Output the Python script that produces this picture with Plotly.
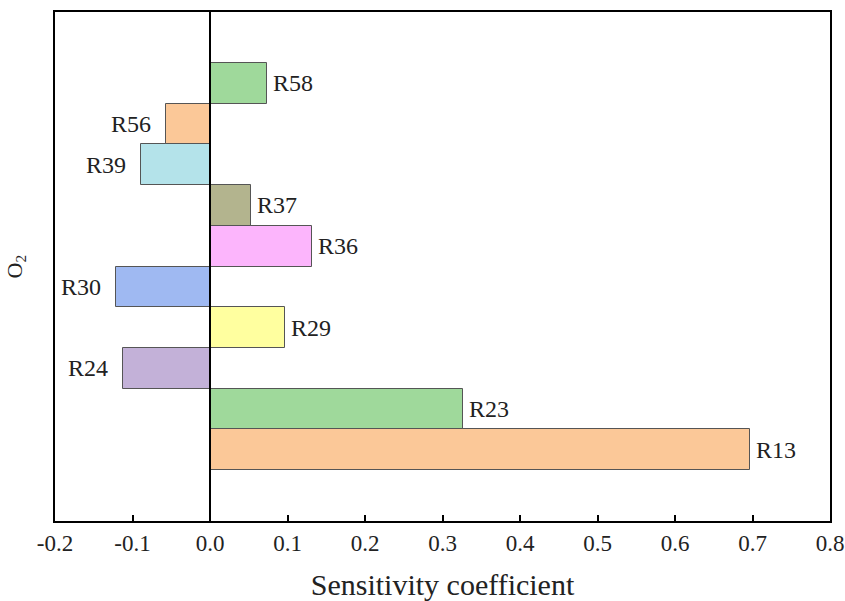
import plotly.graph_objects as go

reactions = ["R13", "R23", "R24", "R29", "R30", "R36", "R37", "R39", "R56", "R58"]
coefficients = [0.697, 0.327, -0.112, 0.097, -0.121, 0.131, 0.053, -0.089, -0.057, 0.073]
bar_colors = ["#fbc898", "#9fd99b", "#c3b1d8", "#ffff9f", "#9fb9f2",
              "#fcb5fc", "#b3b48e", "#b4e3ea", "#fbc898", "#9fd99b"]
x_ticks = [-0.2, -0.1, 0.0, 0.1, 0.2, 0.3, 0.4, 0.5, 0.6, 0.7, 0.8]

FONT = "Liberation Serif"

fig = go.Figure()
fig.add_trace(go.Bar(
    x=coefficients, y=reactions, orientation="h", width=1,
    marker=dict(color=bar_colors, line=dict(color="#555555", width=1)),
    showlegend=False, hoverinfo="x+y",
))
for name, val in zip(reactions, coefficients):
    pos = val >= 0
    fig.add_annotation(
        x=val, y=name, xref="x", yref="y", text=name, showarrow=False,
        xanchor="left" if pos else "right", yanchor="middle",
        xshift=4 if pos else -13,
        font=dict(family=FONT, size=24, color="#222222"),
    )
fig.add_shape(type="line", xref="x", yref="paper", x0=0, x1=0, y0=0, y1=1,
              line=dict(color="black", width=2), layer="above")
fig.add_annotation(
    x=0, y=0.5, xref="paper", yref="paper", text="O<sub>2</sub>",
    showarrow=False, textangle=-90, xanchor="right", yanchor="middle",
    xshift=-24, font=dict(family=FONT, size=22, color="#222222"),
)

fig.update_layout(
    width=845, height=601,
    margin=dict(l=55, r=15, t=12, b=80),
    plot_bgcolor="white", paper_bgcolor="white",
    font=dict(family=FONT, size=23, color="#222222"),
    bargap=0,
    xaxis=dict(
        range=[-0.2, 0.8], tickvals=x_ticks,
        ticktext=[f"{v:.1f}" for v in x_ticks],
        ticks="inside", ticklen=6, tickwidth=2, tickcolor="black",
        showline=True, linewidth=2, linecolor="black", mirror=True,
        showgrid=False, zeroline=False,
        automargin=False, ticklabeloverflow="allow",
        title=dict(text="Sensitivity coefficient", standoff=22,
                   font=dict(family=FONT, size=30, color="#222222")),
        tickfont=dict(family=FONT, size=23, color="#222222"),
    ),
    yaxis=dict(
        type="category", range=[-1.75, 10.75],
        showticklabels=False, ticks="", automargin=False,
        showline=True, linewidth=2, linecolor="black", mirror=True,
        showgrid=False, zeroline=False,
    ),
)

fig.write_html("out.html")
